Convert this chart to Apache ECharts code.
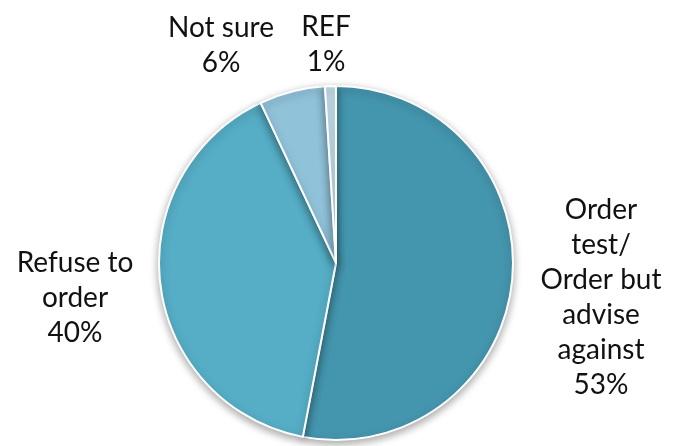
<!DOCTYPE html>
<html>
<head>
<meta charset="utf-8">
<script src="https://cdn.jsdelivr.net/npm/echarts@6/dist/echarts.min.js"></script>
<style>
  html, body { margin: 0; padding: 0; background: #fff; }
  #chart { width: 673px; height: 446px; }
</style>
</head>
<body>
<div id="chart"></div>
<script>
// Survey responses, clockwise from 12 o'clock
const categories = ['Order\ntest/\nOrder but\nadvise\nagainst', 'Refuse to\norder', 'Not sure', 'REF'];
const values = [53, 40, 6, 1];
const colors = ['#4496ae', '#55aec6', '#90c3da', '#c4dfeb'];

// Label anchor points (centre of each text block)
const labelSpots = [
  { x: 601, y: 297 },
  { x: 75, y: 298 },
  { x: 221, y: 45 },
  { x: 326, y: 44 }
];

const chart = echarts.init(document.getElementById('chart'), null, { renderer: 'canvas' });

chart.setOption({
  animation: false,
  series: [{
    type: 'pie',
    center: [336, 263],
    radius: [0, 177],
    startAngle: 90,
    clockwise: true,
    avoidLabelOverlap: false,
    data: categories.map((name, i) => ({
      name: name,
      value: values[i],
      itemStyle: { color: colors[i] }
    })),
    itemStyle: {
      borderColor: '#ffffff',
      borderWidth: 2,
      shadowBlur: 8,
      shadowOffsetY: 3,
      shadowColor: 'rgba(0,0,0,0.35)'
    },
    label: {
      show: true,
      position: 'outside',
      formatter: '{b}\n{d}%',
      fontFamily: 'Lato',
      fontSize: 28,
      lineHeight: 35,
      color: '#111',
      align: 'center'
    },
    labelLine: { show: false },
    labelLayout: function (params) {
      const p = labelSpots[params.dataIndex];
      return { x: p.x, y: p.y, align: 'center', verticalAlign: 'middle' };
    },
    emphasis: { disabled: true }
  }]
});
</script>
</body>
</html>
